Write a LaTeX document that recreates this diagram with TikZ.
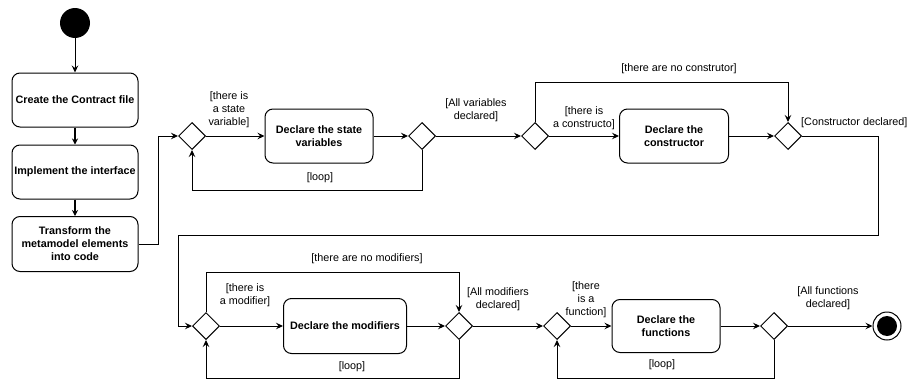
\documentclass[tikz,border=0pt]{standalone}
\usepackage{fontspec}
\setmainfont{Liberation Sans}
\usetikzlibrary{shapes.geometric,arrows.meta}
\begin{document}
\begin{tikzpicture}[x=1pt,y=-1pt,
  every node/.style={font=\fontsize{10.8}{13}\selectfont},
  action/.style={draw,line width=1pt,rounded corners=8pt,align=center,
    font=\fontsize{10.8}{13}\selectfont\bfseries,inner sep=0pt},
  choice/.style={draw,line width=1pt,diamond,aspect=1,minimum width=27pt,
    minimum height=27pt,inner sep=0pt},
  guard/.style={align=center,inner sep=0pt},
  flow/.style={line width=1pt,-{Stealth[length=7pt,width=6.5pt,inset=2.5pt]}},
  line/.style={line width=1pt},
  heavy/.style={line width=1.8pt,-{Stealth[length=6pt,width=6pt,inset=2pt]}}]
\useasboundingbox (0,0) rectangle (908,380);

% initial and final states
\node[circle,fill=black,minimum size=30pt,inner sep=0pt] (start) at (75,23) {};
\node[circle,draw,line width=1pt,minimum size=28pt,inner sep=0pt] (final) at (887,326) {};
\node[circle,fill=black,minimum size=20pt,inner sep=0pt] at (final) {};

% preparation steps
\node[action,minimum width=126pt,minimum height=54pt] (b1) at (75,100) {Create the Contract file};
\node[action,minimum width=126pt,minimum height=54pt] (b2) at (75,172) {Implement the interface};
\node[action,minimum width=126pt,minimum height=55pt] (b3) at (75,244) {Transform the\\metamodel elements\\into code};

% first row
\node[choice] (d1) at (192,136) {};
\node[action,minimum width=108pt,minimum height=54pt] (sv) at (319,136) {Declare the state\\variables};
\node[choice] (d2) at (422,136) {};
\node[choice] (d3) at (535,136) {};
\node[action,minimum width=109pt,minimum height=54pt] (cons) at (674,136) {Declare the\\constructor};
\node[choice] (d4) at (788,136) {};

% second row
\node[choice] (d5) at (206,326) {};
\node[action,minimum width=123pt,minimum height=55pt] (mod) at (345,326) {Declare the modifiers};
\node[choice] (d6) at (459,326) {};
\node[choice] (d7) at (557,326) {};
\node[action,minimum width=108pt,minimum height=53pt] (fun) at (666,326) {Declare the\\functions};
\node[choice] (d8) at (774,326) {};

% guards
\node[guard] (g1) at (229,110) {[there is\\a state\\variable]};
\node[guard] (g2) at (320,178) {[loop]};
\node[guard] (g3) at (476,110) {[All variables\\declared]};
\node[guard] (g4) at (584,118) {[there is\\a constructo]};
\node[guard] (g5) at (679,69) {[there are no construtor]};
\node[guard,anchor=west] (g6) at (801,123) {[Constructor declared]};
\node[guard] (g7) at (367,259) {[there are no modifiers]};
\node[guard] (g8) at (245,295) {[there is\\a modifier]};
\node[guard] (g9) at (352,367) {[loop]};
\node[guard] (g10) at (498,299) {[All modifiers\\declared]};
\node[guard] (g11) at (586,300) {[there\\is a\\function]};
\node[guard] (g12) at (662,365) {[loop]};
\node[guard] (g13) at (828,298) {[All functions\\declared]};

% connectors
\draw[flow] (start) -- (b1);
\draw[heavy] (b1) -- (b2);
\draw[heavy] (b2) -- (b3);
\draw[flow] (b3.east) -- (158,244) |- (d1.west);
\draw[flow] (d1) -- (sv);
\draw[flow] (sv) -- (d2);
\draw[flow] (d2.south) -- (422,190) -| (d1.south);
\draw[flow] (d2) -- (d3);
\draw[flow] (d3) -- (cons);
\draw[flow] (d3.north) -- (535,82) -| (d4.north);
\draw[flow] (cons) -- (d4);
\draw[flow] (d4.east) -- (878,136) -- (878,235) -- (178,235) |- (d5.west);
\draw[flow] (d5) -- (mod);
\draw[flow] (mod) -- (d6);
\draw[flow] (d5.north) -- (206,272) -| (d6.north);
\draw[flow] (d6.south) -- (459,378) -| (d5.south);
\draw[flow] (d6) -- (d7);
\draw[flow] (d7) -- (fun);
\draw[flow] (fun) -- (d8);
\draw[flow] (d8) -- (final);
\draw[flow] (d8.south) -- (774,378) -| (d7.south);
\end{tikzpicture}
\end{document}
